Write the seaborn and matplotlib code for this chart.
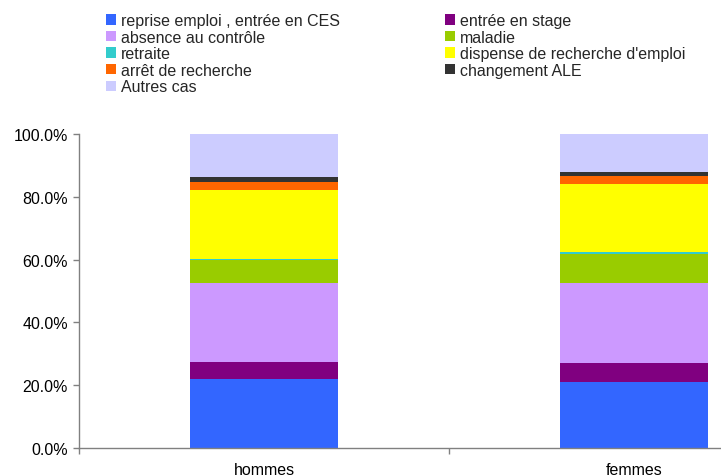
import seaborn as sns
import pandas as pd
import matplotlib.pyplot as plt
from matplotlib.patches import Patch
from matplotlib.ticker import PercentFormatter, FixedLocator

# categories and stacked shares (percent)
groups = ['hommes', 'femmes']
motifs = ['reprise emploi , entrée en CES', 'entrée en stage', 'absence au contrôle',
          'maladie', 'retraite', "dispense de recherche d'emploi", 'arrêt de recherche',
          'changement ALE', 'Autres cas']
hommes = [22.0, 5.4, 25.2, 7.2, 0.45, 22.0, 2.5, 1.6, 13.65]
femmes = [21.0, 6.1, 25.5, 9.1, 0.7, 21.7, 2.5, 1.3, 12.2]
couleurs = ['#3366FF', '#800080', '#CC99FF', '#99CC00', '#33CCCC',
            '#FFFF00', '#FF6600', '#333333', '#CCCCFF']

df = pd.DataFrame({'motif': motifs * 2,
                   'groupe': [groups[0]] * len(motifs) + [groups[1]] * len(motifs),
                   'part': hommes + femmes})

sns.set_style('white')
plt.rcParams['font.family'] = ['Liberation Sans', 'DejaVu Sans']
fs = 11.5

fig = plt.figure(figsize=(7.21, 4.77), dpi=100)
W, H = 721, 477
ax = fig.add_axes([79 / W, (H - 449) / H, (W - 79) / W, (449 - 135) / H])

# stacked bars, one seaborn call per motif
bottom = pd.Series(0.0, index=groups)
for motif, c in zip(motifs, couleurs):
    sub = df[df['motif'] == motif].set_index('groupe').loc[groups].reset_index()
    sns.barplot(data=sub, x='groupe', y='part', order=groups, color=c,
                width=0.4, bottom=bottom.values, errorbar=None,
                saturation=1, linewidth=0, ax=ax)
    bottom = bottom + sub['part'].values

ax.yaxis.set_major_locator(FixedLocator([0, 20, 40, 60, 80, 100]))
ax.yaxis.set_major_formatter(PercentFormatter(decimals=1))
ax.set_xticks([-0.5, 0.5, 1.5], minor=True)
ax.set_xlim(-0.5, 1.235)
ax.set_ylim(0, 100)
ax.set_xlabel('')
ax.set_ylabel('')

for s in ['top', 'right']:
    ax.spines[s].set_visible(False)
for s in ['left', 'bottom']:
    ax.spines[s].set_color('#808080')
    ax.spines[s].set_linewidth(1.0)

ax.tick_params(axis='y', left=True, length=4, width=1, color='#808080',
               pad=4, labelsize=fs, labelcolor='black')
ax.tick_params(axis='x', which='major', length=0, pad=10, labelsize=fs, labelcolor='black')
ax.tick_params(axis='x', which='minor', bottom=True, length=4, width=1, color='#808080')

# legend in two fixed columns
handles = [Patch(facecolor=c, edgecolor='none') for c in couleurs]
col1 = [0, 2, 4, 6, 8]
col2 = [1, 3, 5, 7]
common = dict(frameon=False, fontsize=fs, handlelength=0.62, handleheight=0.62,
              handletextpad=0.3, labelspacing=0.1, borderpad=0, borderaxespad=0,
              loc='upper left')
leg1 = fig.legend([handles[i] for i in col1], [motifs[i] for i in col1],
                  bbox_to_anchor=(106 / W, 1 - 14 / H), **common)
leg2 = fig.legend([handles[i] for i in col2], [motifs[i] for i in col2],
                  bbox_to_anchor=(445 / W, 1 - 14 / H), **common)

fig.savefig('out.png', dpi=100)
